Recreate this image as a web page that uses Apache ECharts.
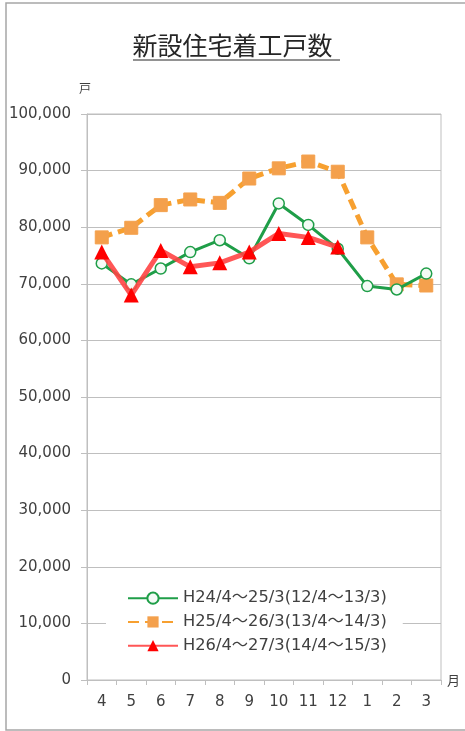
<!DOCTYPE html>
<html>
<head>
<meta charset="utf-8">
<script src="https://cdn.jsdelivr.net/npm/echarts@6/dist/echarts.min.js"></script>
<style>
  html, body { margin: 0; padding: 0; background: #fff; }
  #chart { width: 465px; height: 731px; }
</style>
</head>
<body>
<div id="chart"></div>
<script>
// 月（4月～翌3月）
const months = ['4', '5', '6', '7', '8', '9', '10', '11', '12', '1', '2', '3']
const seriesNames = [
  'H24/4～25/3(12/4～13/3)',
  'H25/4～26/3(13/4～14/3)',
  'H26/4～27/3(14/4～15/3)'
]
// 戸数
const h24 = [73600, 69900, 72700, 75600, 77700, 74500, 84200, 80400, 76200, 69600, 69000, 71800]
const h25 = [78200, 79900, 83900, 84900, 84300, 88600, 90400, 91600, 89800, 78200, 69900, 69700]
const h26 = [75600, 68000, 75900, 73000, 73700, 75600, 78900, 78200, 76500, null, null, null]

const font = '"DejaVu Sans", "Noto Sans CJK JP", sans-serif'
const cjkFont = '"Noto Sans CJK JP", sans-serif'
const textColor = '#404040'
const lineGray = '#bfbfbf'

let chartDom = document.getElementById('chart')
let myChart = echarts.init(chartDom)
let option = {
  animation: false,
  backgroundColor: '#fff',
  textStyle: { fontFamily: font },
  title: {
    text: '新設住宅着工戸数',
    left: 'center',
    top: 28,
    textStyle: { fontFamily: cjkFont, fontSize: 25, fontWeight: 'normal', color: '#262626' }
  },
  graphic: [
    // 外枠
    {
      type: 'rect',
      shape: { x: 6, y: 3, width: 470, height: 727 },
      style: { fill: null, stroke: '#a6a6a6', lineWidth: 1.5 },
      silent: true
    },
    // タイトル下線
    {
      type: 'line',
      shape: { x1: 133, y1: 60, x2: 340, y2: 60 },
      style: { stroke: '#262626', lineWidth: 1.2 },
      silent: true
    }
  ],
  grid: {
    left: 87,
    right: 24,
    top: 114,
    bottom: 51,
    show: true,
    borderColor: lineGray,
    borderWidth: 1
  },
  legend: {
    data: seriesNames,
    orient: 'vertical',
    left: 106,
    top: 585,
    padding: [5, 16, 5, 21],
    backgroundColor: '#fff',
    itemWidth: 50,
    itemHeight: 14,
    itemGap: 7.5,
    textStyle: { fontFamily: font, fontSize: 16.3, color: textColor, lineHeight: 16 }
  },
  xAxis: {
    type: 'category',
    data: months,
    boundaryGap: true,
    name: '月',
    nameLocation: 'end',
    nameGap: 6,
    nameTextStyle: { fontFamily: cjkFont, fontSize: 13, color: textColor, padding: [26, 0, 0, 0] },
    axisLine: { lineStyle: { color: lineGray } },
    axisTick: { show: true, length: 5, lineStyle: { color: lineGray } },
    axisLabel: { fontSize: 15, color: textColor, margin: 15 },
    splitLine: { show: false }
  },
  yAxis: {
    type: 'value',
    min: 0,
    max: 100000,
    interval: 10000,
    name: '戸',
    nameLocation: 'end',
    nameGap: 20,
    nameTextStyle: { fontFamily: cjkFont, fontSize: 12, color: textColor, align: 'center', padding: [0, 4, 0, 0] },
    axisLine: { show: true, lineStyle: { color: lineGray } },
    axisTick: { show: true, length: 6, lineStyle: { color: lineGray } },
    axisLabel: {
      fontSize: 15,
      color: textColor,
      margin: 16,
      formatter: function (v) { return v.toLocaleString('en-US') }
    },
    splitLine: { lineStyle: { color: lineGray } }
  },
  series: [
    {
      name: seriesNames[0],
      type: 'line',
      data: h24,
      symbol: 'circle',
      symbolSize: 11,
      lineStyle: { color: '#1f9e48', width: 3 },
      itemStyle: { color: '#f4fbf6', borderColor: '#1f9e48', borderWidth: 1.5 },
      z: 3
    },
    {
      name: seriesNames[1],
      type: 'line',
      data: h25,
      symbol: 'rect',
      symbolSize: 13,
      lineStyle: { color: '#f7a030', width: 5, type: [11, 6] },
      itemStyle: { color: '#f4a04c', borderColor: '#f4a04c' },
      z: 2
    },
    {
      name: seriesNames[2],
      type: 'line',
      data: h26,
      symbol: 'triangle',
      symbolSize: 15,
      connectNulls: false,
      lineStyle: { color: '#ff4444', width: 5, opacity: 0.9 },
      itemStyle: { color: '#ff0000' },
      z: 4
    }
  ]
}

option && myChart.setOption(option)
</script>
</body>
</html>
